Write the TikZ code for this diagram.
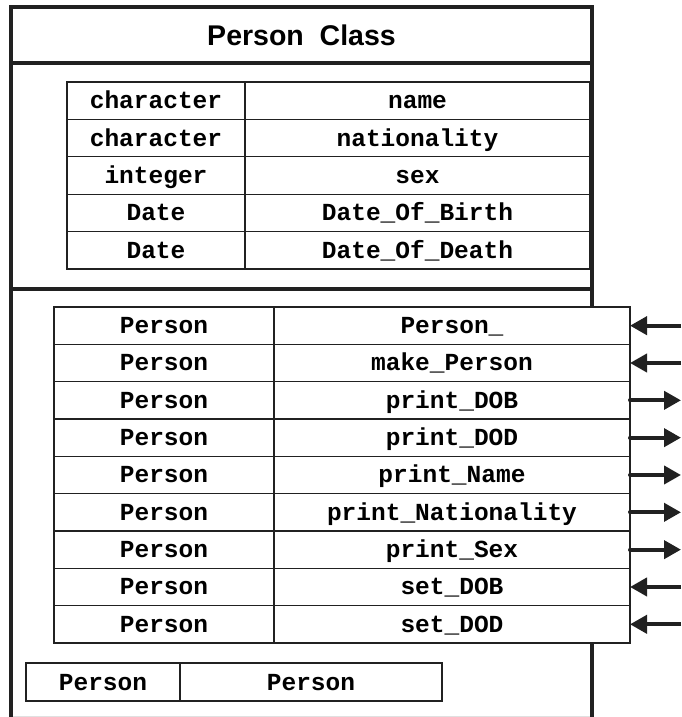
\documentclass[tikz,border=0pt]{standalone}
\usepackage{fontspec}
\usetikzlibrary{positioning,arrows.meta}
\newfontfamily\cellfont{Liberation Mono}
\newfontfamily\headfont{Liberation Sans}
\definecolor{rule}{gray}{0.13}

\begin{document}
\begin{tikzpicture}[x=1pt, y=-1pt,
 every node/.style={inner sep=0pt, outer sep=0pt},
 cell/.style={draw=rule, line width=1.1pt, fill=white, minimum height=#1, text height=20pt, text depth=4pt,
   font=\cellfont\bfseries\fontsize{24.5}{28}\selectfont},
 cell/.default=37.4pt,
 wall/.style={draw=rule, line width=4pt},
 inward/.style={draw=rule, line width=4pt, -{Triangle[length=17pt,width=18pt]}},
 outward/.style={draw=rule, line width=4pt, line cap=round, -{Triangle[length=17pt,width=18pt]}}]

 \useasboundingbox (0,0) rectangle (681,717);

 % attributes
 \coordinate (attr-0-t) at (156,82);
 \foreach \t/\n [count=\i, remember=\i as \lasti (initially 0)] in
   {character/name, character/nationality, integer/sex, Date/Date\_Of\_Birth, Date/Date\_Of\_Death}
 {
  \node[cell, minimum width=178pt, below=0pt of attr-\lasti-t] (attr-\i-t) {\t};
  \node[cell, minimum width=345pt, right=0pt of attr-\i-t] (attr-\i-n) {\n};
 }

 \draw[wall] (592,307) -- (592,7.3) -- (11.3,7.3) -- (11.3,717);
 \draw[wall] (11.3,63.5) -- (592,63.5);
 \draw[wall] (11.3,288.5) -- (592,288.5);
 \draw[wall] (592,643) -- (592,717);
 \draw[black!12, line width=1pt] (13.3,716.5) -- (590,716.5);

 \node[font=\headfont\bfseries\fontsize{28.5}{32}\selectfont] (title) at (301.5,35.5) {Person\ \ Class};

 % methods
 \coordinate (meth-0-t) at (164,307);
 \foreach \n [count=\i, remember=\i as \lasti (initially 0)] in
   {Person\_, make\_Person, print\_DOB, print\_DOD, print\_Name, print\_Nationality, print\_Sex, set\_DOB, set\_DOD}
 {
  \node[cell=37.33pt, minimum width=220pt, below=0pt of meth-\lasti-t] (meth-\i-t) {Person};
  \node[cell=37.33pt, minimum width=356pt, right=0pt of meth-\i-t] (meth-\i-n) {\n};
  \path (meth-\i-n.east) ++(51,0) coordinate (io-\i);
 }

 \foreach \i in {1,2,8,9} \draw[inward] (io-\i) -- (meth-\i-n.east);
 \foreach \i in {3,...,7} \draw[outward] (meth-\i-n.east) -- (io-\i);

 \node[cell=38pt, minimum width=154pt, anchor=north west] (base-t) at (26,663) {Person};
 \node[cell=38pt, minimum width=262pt, right=0pt of base-t] (base-n) {Person};
%\node at (title.south) {};
\end{tikzpicture}
\end{document}
